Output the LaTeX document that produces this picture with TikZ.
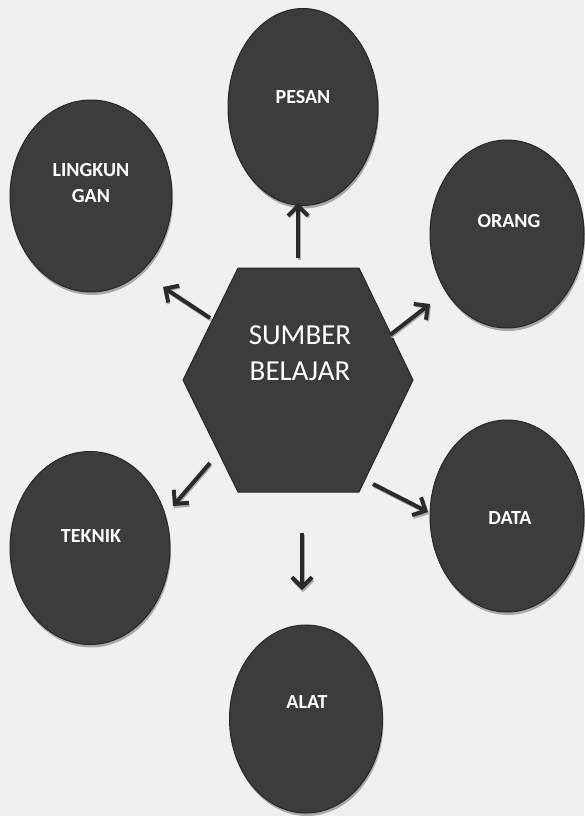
\documentclass[tikz,border=0pt]{standalone}
\usepackage{fontspec}
\setmainfont{Carlito}
\usetikzlibrary{shapes.geometric,arrows.meta,shadows}
\definecolor{paper}{HTML}{F0F0F0}
\definecolor{blob}{HTML}{3C3C3C}
\definecolor{blobedge}{HTML}{262626}
\definecolor{shade}{HTML}{A8A8A8}
\definecolor{arrowc}{HTML}{2A2A2A}
\tikzset{
  src/.style={ellipse, fill=blob, draw=blobedge, line width=1pt, inner sep=0pt,
    general shadow={fill=shade, shadow xshift=1pt, shadow yshift=-3pt}},
  lbl/.style={text=white, font=\bfseries\fontsize{20}{26}\selectfont, align=center, inner sep=0pt},
  biglbl/.style={text=white, font=\fontsize{29}{36}\selectfont, align=center, inner sep=0pt},
  arr/.style={draw=arrowc, line width=4pt,
    -{Straight Barb[length=10pt,width=20pt]},
    preaction={draw=shade, line width=3pt, -{Straight Barb[length=10pt,width=20pt]},
      transform canvas={shift={(1pt,-2pt)}}}},
}
\begin{document}
\begin{tikzpicture}[x=1pt,y=-1pt]
\fill[paper] (0,0) rectangle (584,816);
\useasboundingbox (0,0) rectangle (584,816);

% ellipses
\node[src, minimum width=150pt, minimum height=197pt] (pesan)  at (303,107) {};
\node[src, minimum width=162pt, minimum height=192pt] (lingk)  at (91,196)  {};
\node[src, minimum width=154pt, minimum height=188pt] (orang)  at (507,234) {};
\node[src, minimum width=160pt, minimum height=193pt] (teknik) at (90,548)  {};
\node[src, minimum width=154pt, minimum height=192pt] (data)   at (507,516) {};
\node[src, minimum width=153pt, minimum height=188pt] (alat)   at (306,719) {};

% labels
\node[lbl] (pesanT)  at (303,97)  {PESAN};
\node[lbl] (lingkT)  at (91,183)  {LINGKUN\\GAN};
\node[lbl] (orangT)  at (509,221) {ORANG};
\node[lbl] (teknikT) at (91,536)  {TEKNIK};
\node[lbl] (dataT)   at (510,518) {DATA};
\node[lbl] (alatT)   at (307,702) {ALAT};

% hexagon
\coordinate (h1) at (238,268);
\coordinate (h2) at (359,268);
\coordinate (h3) at (413,380);
\coordinate (h4) at (359,492);
\coordinate (h5) at (238,492);
\coordinate (h6) at (183,380);
\filldraw[fill=blob, draw=blobedge, line width=1pt] (h1) -- (h2) -- (h3) -- (h4) -- (h5) -- (h6) -- cycle;
\node[biglbl] (hex) at (300,353) {SUMBER\\BELAJAR};

% arrow end points
\coordinate (aUp0) at (298,258);  \coordinate (aUp1) at (298,203);
\coordinate (aL0)  at (210,318);  \coordinate (aL1)  at (163,287);
\coordinate (aO0)  at (390,335);  \coordinate (aO1)  at (430,304);
\coordinate (aT0)  at (210,463);  \coordinate (aT1)  at (173,506);
\coordinate (aD0)  at (373,484);  \coordinate (aD1)  at (428,512);
\coordinate (aA0)  at (302,533);  \coordinate (aA1)  at (302,590);

\draw[arr] (aUp0) -- (aUp1);
\draw[arr] (aL0) -- (aL1);
\draw[arr] (aO0) -- (aO1);
\draw[arr] (aT0) -- (aT1);
\draw[arr] (aD0) -- (aD1);
\draw[arr] (aA0) -- (aA1);
\end{tikzpicture}
\end{document}
